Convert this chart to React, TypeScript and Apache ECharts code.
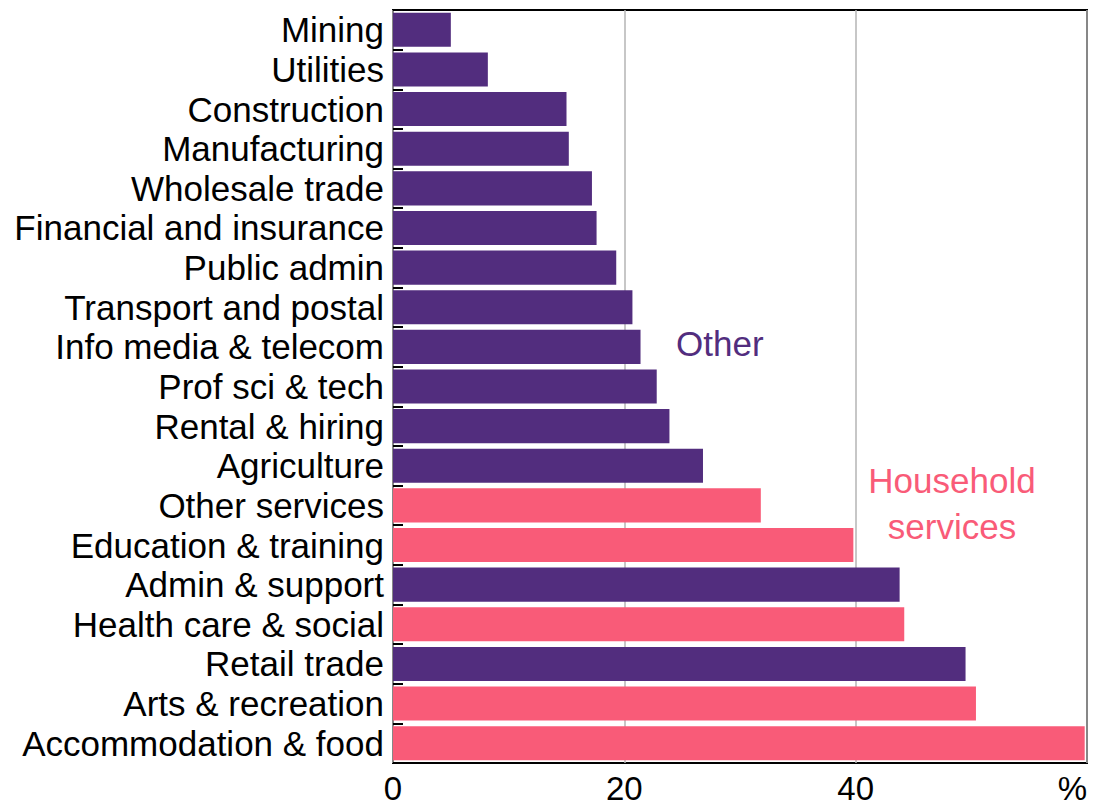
import React, { useEffect, useRef } from "react";
import * as echarts from "echarts";

const categories = [
  "Mining",
  "Utilities",
  "Construction",
  "Manufacturing",
  "Wholesale trade",
  "Financial and insurance",
  "Public admin",
  "Transport and postal",
  "Info media & telecom",
  "Prof sci & tech",
  "Rental & hiring",
  "Agriculture",
  "Other services",
  "Education & training",
  "Admin & support",
  "Health care & social",
  "Retail trade",
  "Arts & recreation",
  "Accommodation & food",
];

const values = [5.0, 8.2, 15.0, 15.2, 17.2, 17.6, 19.3, 20.7, 21.4, 22.8, 23.9, 26.8, 31.8, 39.8, 43.8, 44.2, 49.5, 50.4, 59.8];

const groups = [
  "Other", "Other", "Other", "Other", "Other", "Other", "Other", "Other", "Other", "Other", "Other", "Other",
  "Household", "Household", "Other", "Household", "Other", "Household", "Household",
];

const xTicks = [0, 20, 40, 60];
const xTickLabels = ["0", "20", "40", "%"];

const PURPLE = "#522D7E";
const PINK = "#F95B78";
const FONT = "'Liberation Sans', Arial, sans-serif";

export default function App() {
  const ref = useRef<HTMLDivElement>(null);
  useEffect(() => {
    if (!ref.current) return;
    const chart = echarts.init(ref.current, undefined, { renderer: "svg" });
    const data = values.map((v, i) => ({
      value: v,
      itemStyle: { color: groups[i] === "Household" ? PINK : PURPLE },
    }));
    chart.setOption({
      animation: false,
      backgroundColor: "#fff",
      grid: {
        left: 393,
        right: 15,
        top: 10,
        bottom: 43,
        show: true,
        borderColor: "#000",
        borderWidth: 2,
        backgroundColor: "transparent",
      },
      xAxis: {
        type: "value",
        min: 0,
        max: 60,
        interval: 20,
        axisLine: { show: false },
        axisTick: { show: false },
        splitLine: { show: true, lineStyle: { color: "#b4b4b4", width: 1.5 } },
        axisLabel: {
          show: true,
          showMinLabel: true,
          showMaxLabel: true,
          alignMaxLabel: "right",
          color: "#000",
          fontFamily: FONT,
          fontSize: 33,
          lineHeight: 30,
          margin: 10,
          formatter: (v: number) => {
            const i = xTicks.indexOf(v);
            return i >= 0 ? xTickLabels[i] : "";
          },
        },
      },
      yAxis: {
        type: "category",
        data: categories,
        inverse: true,
        axisLine: { show: false },
        axisTick: {
          show: true,
          inside: true,
          length: 10,
          interval: 0,
          lineStyle: { color: "#000", width: 2 },
        },
        axisLabel: {
          color: "#000",
          fontFamily: FONT,
          fontSize: 35,
          margin: 9,
          interval: 0,
        },
        splitLine: { show: false },
        z: 5,
      },
      series: [
        {
          type: "bar",
          data,
          barCategoryGap: "14%",
          z: 1,
        },
      ],
      graphic: [
        {
          type: "text",
          left: 676,
          top: 326,
          style: { text: "Other", fill: PURPLE, font: `35px ${FONT}` },
        },
        {
          type: "text",
          x: 952,
          y: 503,
          style: {
            text: "Household\nservices",
            fill: PINK,
            font: `35px ${FONT}`,
            align: "center",
            verticalAlign: "middle",
            lineHeight: 46,
          },
        },
      ],
    });
    return () => chart.dispose();
  }, []);
  return (
    <div
      ref={ref}
      style={{ position: "fixed", left: 0, top: 0, width: 1102, height: 806 }}
    />
  );
}
